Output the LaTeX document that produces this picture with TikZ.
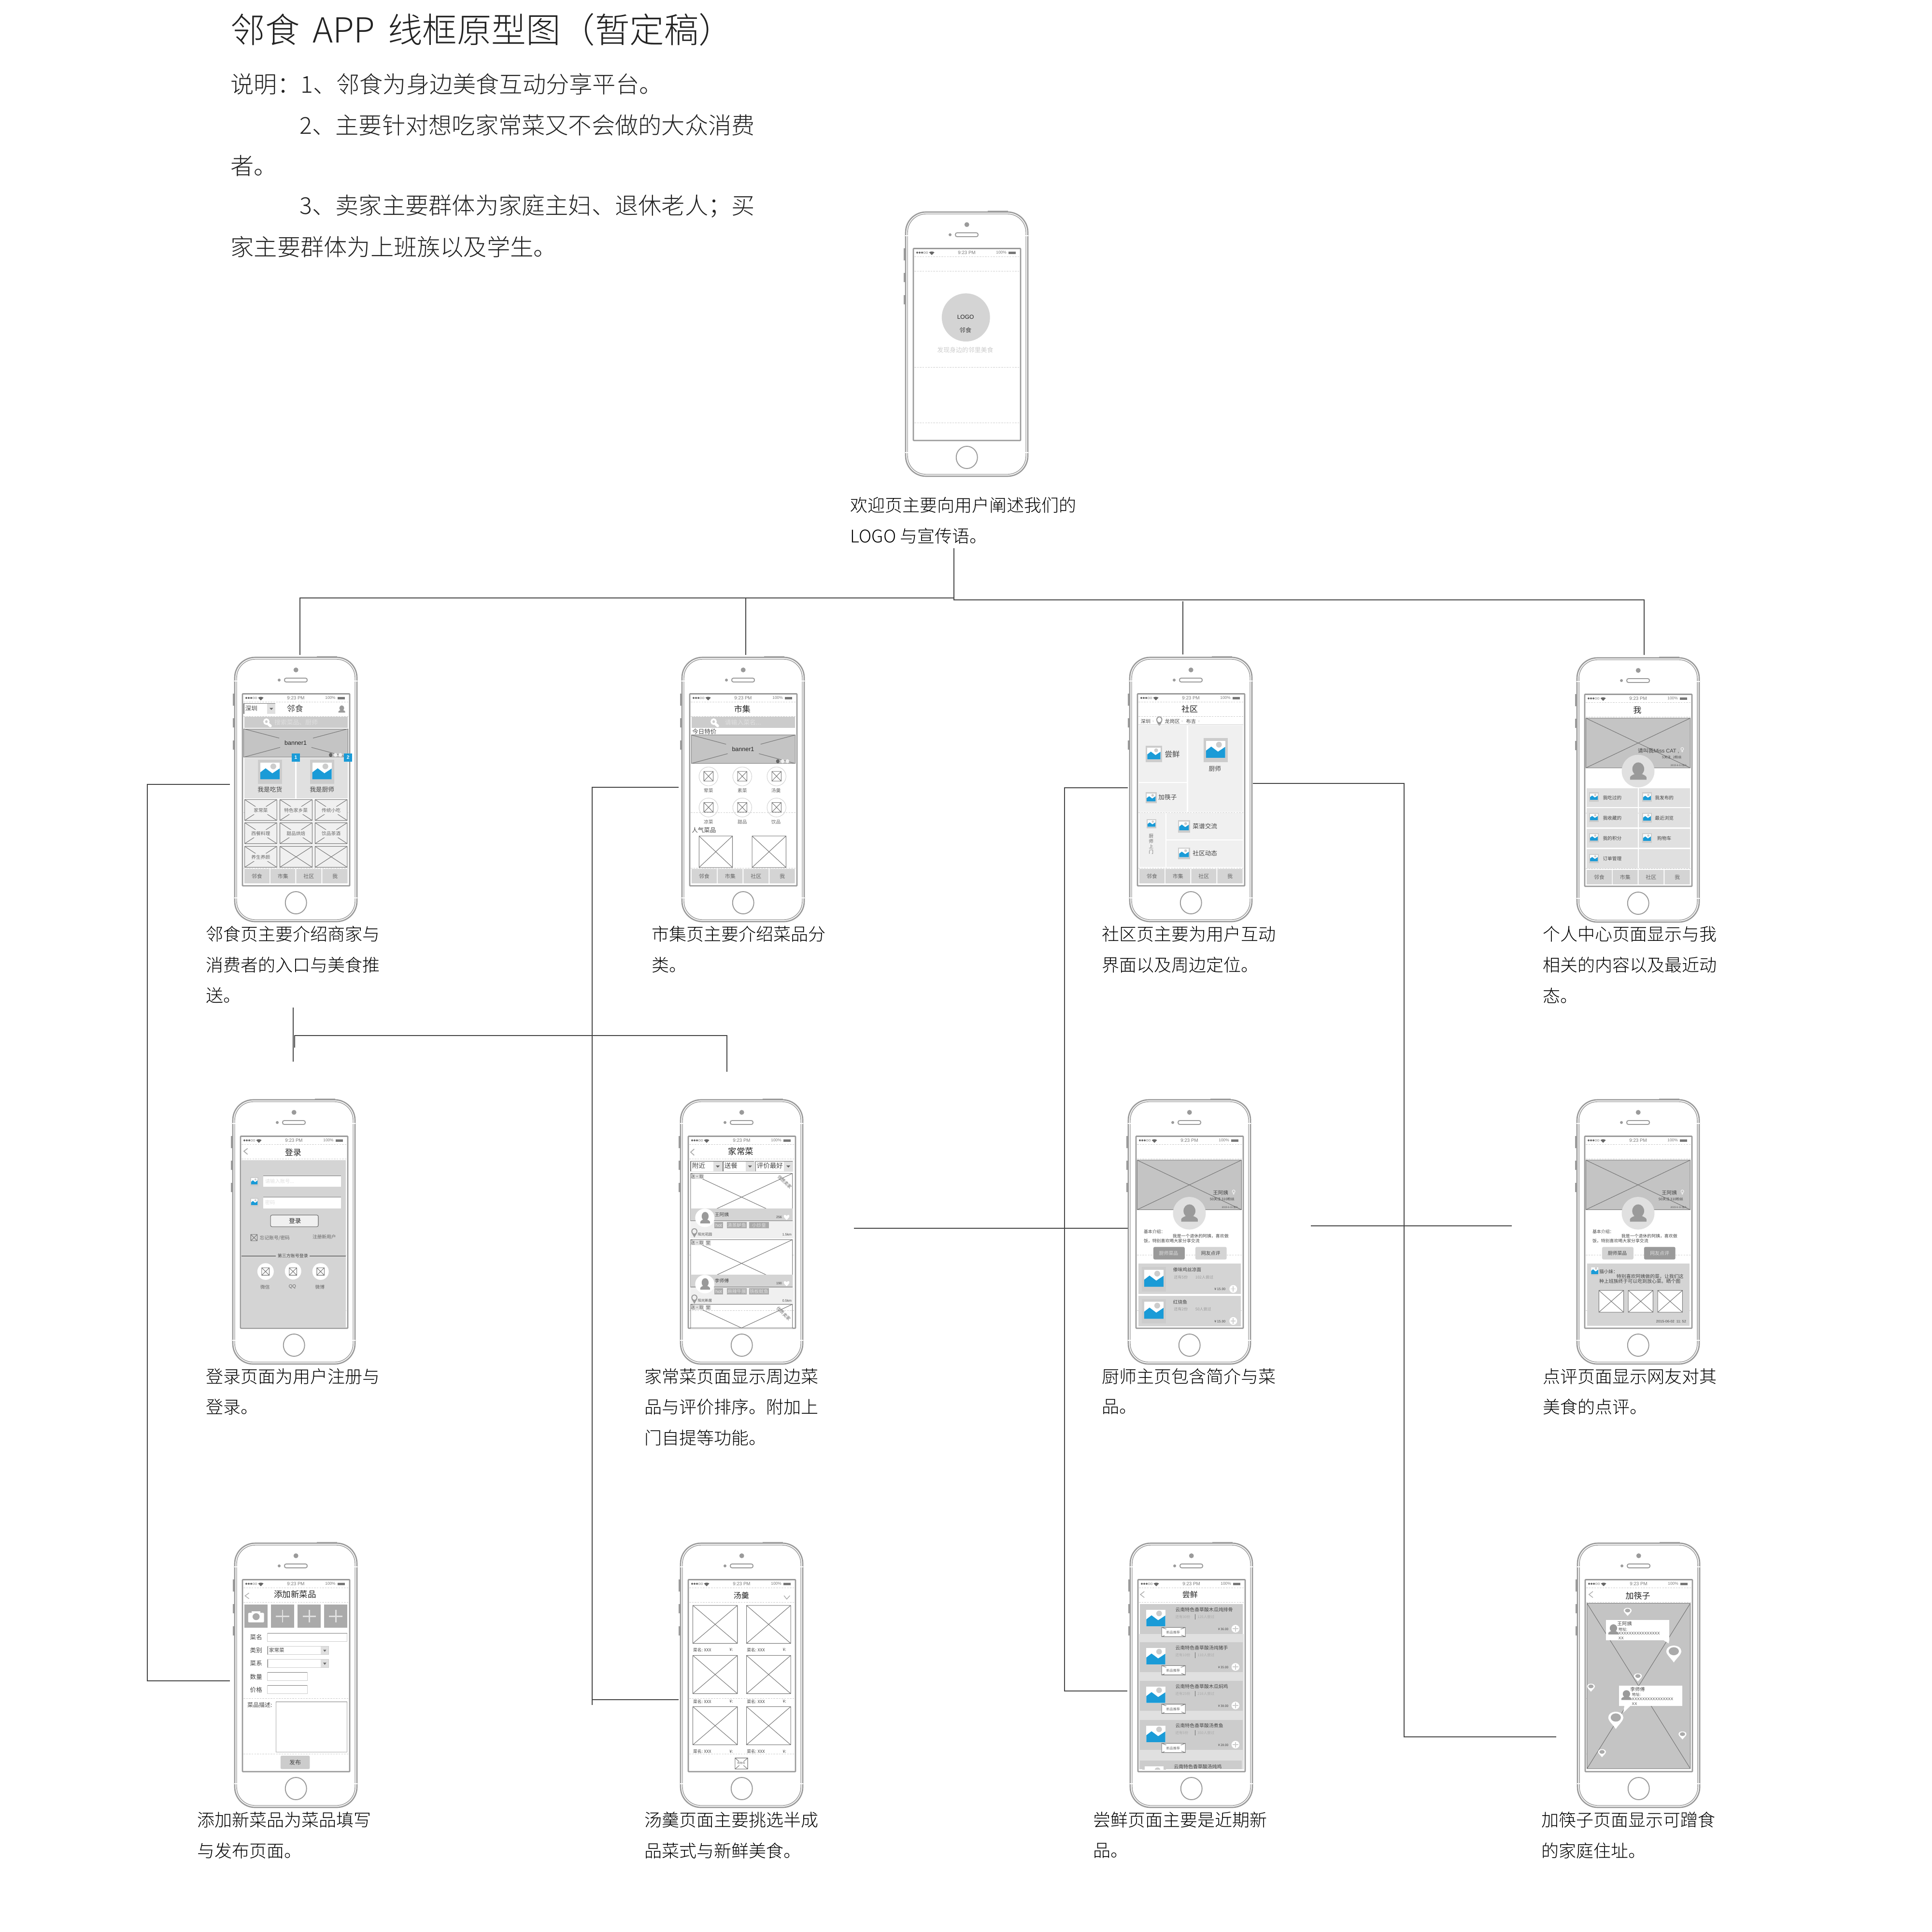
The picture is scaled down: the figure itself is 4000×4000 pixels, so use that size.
\documentclass[tikz,border=0pt]{standalone}
\usepackage{fontspec}
\setmainfont{Noto Sans CJK SC Light}
\newfontfamily\reg{Noto Sans CJK SC}
\newfontfamily\lat{Liberation Sans}
\newfontfamily\symb{DejaVu Sans}
\definecolor{gC4}{HTML}{C4C4C4}\definecolor{gCC}{HTML}{CCCCCC}\definecolor{gD4}{HTML}{D4D4D4}
\definecolor{gE0}{HTML}{E0E0E0}\definecolor{gF0}{HTML}{F0F0F0}\definecolor{g99}{HTML}{9A9A9A}
\definecolor{g77}{HTML}{777777}\definecolor{g66}{HTML}{666666}\definecolor{g44}{HTML}{444444}
\definecolor{g22}{HTML}{222222}\definecolor{gAA}{HTML}{AAAAAA}\definecolor{bl}{HTML}{1A9BD7}
\newdimen\wSz \newcount\wN
\newcommand\wFs[1]{\wSz=0.2845\dimexpr #1pt\relax \fontsize{\the\wSz}{\the\wSz}\selectfont\ifdim\wSz<6pt \reg\fi}
\tikzset{
  wtxt/.style={inner sep=0pt,text=g44},
  captxt/.style={anchor=west,text=black},
  inpbox/.style={draw=gCC,line width=0.3pt},
  phonebox/.style={inner sep=0pt,minimum width=2.53cm,minimum height=5.47cm},
  conn/.style={draw=g44,line width=0.4pt},
  xb/.style={draw=g77,line width=0.3pt},
  dashline/.style={draw=gCC,line width=0.25pt,dash pattern=on 1pt off 0.6pt},
  zA/.style n args={2}{shift={(#1,#2)},x=0.0033333cm,y=-0.0038270cm},
  zB/.style n args={2}{shift={(#1,#2)},x=0.0081633cm,y=-0.0039541cm},
}
\newcommand\wTx[5][]{\global\advance\wN by 1 \node[wtxt,font=\wFs{#4},#1] (t\the\wN) at (#2,#3) {#5};}
\newcommand\wRc[5][fill=gD4]{\path[#1] (#2,#3) rectangle (#4,#5);}
\newcommand\wEl[5][fill=gD4]{\path[#1] (#2,#3) ellipse [x radius=#4,y radius=#5];}
\newcommand\wXb[5][]{\draw[xb,#1] (#2,#3) rectangle (#4,#5) (#2,#3)--(#4,#5) (#2,#5)--(#4,#3);}
\newcommand\wIc[4]{\pgfmathsetmacro\wsa{(#3-#1)/100}\pgfmathsetmacro\wsb{(#4-#2)/100}%
  \begin{scope}[shift={(#1,#2)},xscale=\wsa,yscale=\wsb]
  \fill[gCC] (0,0) rectangle (100,100);
  \fill[white] (10,11) rectangle (90,81);
  \fill[bl] (10,81)--(10,52)--(32,35)--(60,56)--(90,36)--(90,81)--cycle;
  \fill[gCC] (64,27) ellipse [x radius=12,y radius=12];
  \end{scope}}
\newcommand\wPs[5][g99]{\pgfmathsetmacro\wsa{(#4-#2)/100}\pgfmathsetmacro\wsb{(#5-#3)/100}%
  \begin{scope}[shift={(#2,#3)},xscale=\wsa,yscale=\wsb]
  \fill[#1] (50,38) ellipse [x radius=36,y radius=38];
  \fill[#1] (0,100)--(0,85) .. controls (5,75) and (20,70) .. (32,66) -- (68,66) .. controls (80,70) and (95,75) .. (100,85) -- (100,100) -- cycle;
  \end{scope}}
\newcommand\wPn[6][white]{\pgfmathsetmacro\wsa{#4/100}\pgfmathsetmacro\wsb{#5/150}%
  \begin{scope}[shift={(#2,#3)},xscale=\wsa,yscale=\wsb]
  \fill[#1] (0,100) .. controls (-20,60) and (-50,30) .. (-50,0) .. controls (-50,-30) and (-28,-50) .. (0,-50) .. controls (28,-50) and (50,-30) .. (50,0) .. controls (50,30) and (20,60) .. (0,100) -- cycle;
  \fill[#6] (0,0) ellipse [x radius=34,y radius=36];
  \end{scope}}
\newcommand\wPhone[3]{\begin{scope}[shift={(#2,#3)}]
  \node[phonebox] (#1) at (126.5,273.5) {};
  \fill[g99] (-4,75) rectangle (0,100) (-4,126) rectangle (0,145) (-4,172) rectangle (0,191) (170,-2.5) rectangle (212,1);
  \draw[g99,line width=0.75pt,fill=white,rounded corners=0.42cm] (0,0) rectangle (253,547);
  \draw[g99,line width=0.4pt,rounded corners=0.38cm] (4,4) rectangle (249,543);
  \draw[white,line width=0.5pt] (-1,49)--(5,49) (248,49)--(254,49) (-1,498)--(5,498) (248,498)--(254,498);
  \fill[g99] (126.7,26) ellipse [x radius=5,y radius=5];
  \fill[g99] (92,47) circle [radius=3];
  \draw[g99,line width=0.55pt,rounded corners=0.035cm] (103,43) rectangle (150,51);
  \draw[g99,line width=0.55pt] (126.7,508) ellipse [x radius=22,y radius=23];
  \draw[g99,line width=0.75pt,rounded corners=0.01cm] (16,75.5) rectangle (238,473);
  \foreach \q in {24,29,34}{\fill[g66] (\q,84) circle [radius=2];}
  \foreach \q in {39,44}{\draw[g77,line width=0.15pt] (\q,84) circle [radius=2];}
  \fill[g66] (54,89)--(48.5,83.5) .. controls (52,81) and (56,81) .. (59.5,83.5)--cycle;
  \wTx[text=g77]{126.5}{84}{9.7}{\lat 9:23 PM}
  \wTx[text=g77]{198}{84}{8.3}{\lat 100\%}
  \fill[g77] (213,81.5) rectangle (228,86.5);
  \foreach \q in {92,122,321,436}{\draw[dashline] (18,\q)--(236,\q);}
\end{scope}}
\newcommand\wTabBar[2]{\begin{scope}[shift={(#1,#2)}]
  \fill[gD4] (138,1172) rectangle (295,1250) (300,1172) rectangle (455,1250) (461,1172) rectangle (617,1250) (623,1172) rectangle (780,1250);
  \wTx[text=g66]{216}{1212}{11}{邻食}\wTx[text=g66]{378}{1212}{11}{市集}\wTx[text=g66]{539}{1212}{11}{社区}\wTx[text=g66]{702}{1212}{11}{我}
\end{scope}}
\newcommand\wMg[2]{\begin{scope}[shift={(#1,#2)}]
  \draw[white,line width=1pt] (-5,-4) ellipse [x radius=14,y radius=13];
  \draw[white,line width=1.6pt,line cap=round] (7,9)--(20,19);
\end{scope}}
\newcommand\wDrop[6][12]{\wRc[fill=white]{#2}{#3}{#4}{#5}\wRc[fill=gE0]{#6}{#3}{#4}{#5}
  \draw[g77,line width=0.4pt] (#2,#5)--(#2,#3)--(#4,#3);
  \pgfmathsetmacro\wsa{(#6+#4)/2}\pgfmathsetmacro\wsb{(#3+#5)/2}
  \begin{scope}[shift={(\wsa,\wsb)}]\fill[g66] (-#1,-4)--(#1,-4)--(0,7)--cycle;\end{scope}}
\newcommand\wChef[4]{\begin{scope}[shift={(#1,0)}]
  \wRc[fill=gC4]{73}{318}{722}{586}
  \wXb{73}{318}{722}{586}
  \wEl[fill=gE0]{398}{605}{102}{88}
  \wPs{347}{557}{450}{651}
  \wTx{592}{494}{10.5}{王阿姨}
  \wTx[text=white]{674}{493}{12}{\symb ♀}
  \wTx{602}{528}{7.3}{50关注 310粉丝}
  \wTx[anchor=east]{704}{574}{5}{2015-6-11 加入}
  \wTx[anchor=west]{112}{705}{8.9}{基本介绍：}
  \wTx[anchor=west]{292}{729}{8.9}{我是一个退休的阿姨，喜欢做}
  \wTx[anchor=west]{112}{755}{8.9}{饭，特别喜欢喝大家分享交流}
  \path[fill=#2,rounded corners=0.03cm] (174,787) rectangle (369,855);
  \wTx[text=#3]{269}{821}{9.9}{厨师菜品}
  \path[fill=#4,rounded corners=0.03cm] (435,787) rectangle (630,855);
\end{scope}}
\newcommand\wPlus[2]{\begin{scope}[shift={(#1,#2)}]
  \wEl[fill=white]{0}{0}{24}{21}
  \draw[gCC,line width=0.5pt] (-15,0)--(15,0) (0,-15)--(0,15);
\end{scope}}
\newcommand\wCard[5]{\begin{scope}[shift={(0,#1)}]
  \wRc{81}{878}{717}{1042}
  \wIc{102}{896}{252}{1027}
  \wTx[anchor=west]{295}{911}{9.7}{#2}
  \wTx[anchor=west,text=g99]{300}{951}{8}{#3}
  \wTx[anchor=west,text=g99]{#5}{951}{8}{#4}
  \wTx[anchor=east]{625}{1016}{7}{¥ 15.00}
  \wPlus{671}{1014}
\end{scope}}
\newcommand\wDish[7]{\begin{scope}[shift={(0,#1)}]
  \wXb[fill=white]{90}{390}{723}{646}
  \wRc{90}{580}{723}{646}
  \draw[g77,line width=0.3pt] (90,646)--(723,646);
  \wRc[fill=gF0]{88}{648}{730}{742}
  \wRc[fill=gE0]{95}{393}{170}{420}
  \wTx[text=g66]{130}{407}{9}{送·取}
  \wEl[fill=white]{178}{630}{60}{50}
  \wPs{150}{598}{210}{660}
  \wTx[anchor=west]{238}{613}{9.7}{#2}
  \wTx{640}{627}{7}{\lat #3}
  \begin{scope}[shift={(687,626)}]\fill[white] (0,15) .. controls (-24,-1) and (-20,-14) .. (-9,-12) .. controls (-3,-11) and (0,-6) .. (0,-6) .. controls (0,-6) and (5,-11) .. (9,-12) .. controls (21,-14) and (22,-1) .. (0,15);\end{scope}
  \wRc[fill=gAA]{238}{653}{290}{687}\wTx[text=gF0]{264}{670}{9.7}{\lat hot}
  \wRc[fill=gAA]{315}{653}{440}{687}\wTx[text=gE0]{377}{670}{9.7}{#4}
  \wRc[fill=gAA]{453}{653}{578}{687}\wTx[text=gE0]{515}{670}{9.7}{#5}
  \wPn[g99]{113}{703}{38}{50}{gF0}
  \wTx[anchor=west]{133}{719}{7.3}{#6}
  \wTx[anchor=east]{720}{719}{7}{\lat #7}
\end{scope}}
\newcommand\wTaste[5]{\begin{scope}[shift={(0,#1)}]
  \wRc[fill=gCC]{37}{305}{298}{463}
  \wIc{47}{322}{107}{445}
  \wXb[fill=white]{92}{428}{152}{477}
  \wTx[fill=white,inner sep=1pt,text=g66]{121}{455}{7}{新品推荐}
  \wTx[anchor=west]{126}{335}{9.9}{#2}
  \wTx[anchor=west,text=gAA]{126}{373}{7.5}{#3}
  \draw[g66,line width=0.3pt] (177,358)--(177,388);
  \wTx[anchor=west,text=gAA]{182}{373}{7.5}{#4}
  \wTx[anchor=east]{262}{437}{6.5}{¥ #5}
  \begin{scope}[shift={(279,435)}]\wEl[fill=white]{0}{0}{10}{20}
  \draw[gCC,line width=0.5pt] (-7,0)--(7,0) (0,-14)--(0,14);\end{scope}
\end{scope}}
\begin{document}
\begin{tikzpicture}[x=0.01cm,y=-0.01cm]
\useasboundingbox (0,0) rectangle (4000,4000);
\fill[white] (0,0) rectangle (4000,4000);
% heading
\wTx[anchor=west,text=g22]{477}{61}{71.5}{邻食\hspace{3pt} APP\hspace{3pt} 线框原型图（暂定稿）}
\wTx[anchor=west,text=g22]{477}{174}{48.2}{说明：1、邻食为身边美食互动分享平台。}
\wTx[anchor=west,text=g22]{620}{259}{48.2}{2、主要针对想吃家常菜又不会做的大众消费}
\wTx[anchor=west,text=g22]{477}{343}{48.2}{者。}
\wTx[anchor=west,text=g22]{620}{427}{48.2}{3、卖家主要群体为家庭主妇、退休老人；买}
\wTx[anchor=west,text=g22]{477}{511}{48.2}{家主要群体为上班族以及学生。}
% phones
\wPhone{welcome}{1875}{439}
\wPhone{home}{486}{1361}\wPhone{market}{1412}{1361}\wPhone{community}{2339}{1361}\wPhone{me}{3265}{1362}
\wPhone{login}{482}{2277}\wPhone{dishes}{1409}{2277}\wPhone{chef}{2336}{2277}\wPhone{review}{3265}{2277}
\wPhone{addnew}{486}{3195}\wPhone{soup}{1409}{3195}\wPhone{taste}{2340}{3195}\wPhone{mapview}{3266}{3195}
% welcome
\begin{scope}[zA={1840}{420}]
\wEl{480}{619}{150}{130}
\wTx[text=g22]{478}{617}{12}{\lat LOGO}
\wTx[text=g44]{477}{688}{12.5}{邻食}
\wTx[text=gCC]{476}{795}{12.9}{发现身边的邻里美食}
\end{scope}
% home
\begin{scope}[zA={460}{1350}]
\wDrop{135}{278}{332}{333}{280}
\wTx[anchor=west]{142}{305}{12.5}{深圳}
\wTx{453}{305}{17}{邻食}
\wPs{723}{288}{765}{327}
\wRc[fill=gCC]{137}{350}{780}{409}
\wMg{280}{380}
\wTx[text=gE0,anchor=west]{323}{380}{12.8}{搜索菜品、厨师}
\wRc[fill=gC4,draw=g77,line width=0.3pt]{135}{415}{782}{568}
\draw[xb] (135,415)--(355,465) (782,415)--(565,465) (135,568)--(360,515) (782,568)--(555,515);
\wTx[text=g22]{457}{490}{12.5}{\lat banner1}
\wEl[fill=g66]{675}{556}{11}{11}\wEl[fill=gF0]{705}{556}{11}{11}\wEl[fill=gF0]{735}{556}{11}{11}
\wRc[fill=gE0]{137}{572}{455}{790}\wRc[fill=gE0]{462}{572}{782}{790}
\wIc{222}{583}{372}{712}\wIc{546}{583}{696}{712}
\wTx{297}{742}{12.7}{我是吃货}\wTx{621}{742}{12.7}{我是厨师}
\wRc[fill=bl]{433}{548}{483}{592}\wTx[text=white]{458}{570}{10}{\lat\bfseries 1}
\wRc[fill=bl]{758}{548}{808}{592}\wTx[text=white]{783}{570}{10}{\lat\bfseries 2}
\wRc[fill=gF0]{137}{795}{782}{1167}
\foreach \xa/\xc in {140/340,359/560,578/778}{\foreach \ya/\yc in {797/910,922/1035,1050/1163}{\wXb{\xa}{\ya}{\xc}{\yc}}}
\wTx[fill=gF0,inner sep=1pt,text=g66]{240}{855}{9.7}{家常菜}
\wTx[fill=gF0,inner sep=1pt,text=g66]{459}{855}{9.7}{特色家乡菜}
\wTx[fill=gF0,inner sep=1pt,text=g66]{678}{855}{9.7}{传统小吃}
\wTx[fill=gF0,inner sep=1pt,text=g66]{240}{981}{9.7}{西餐料理}
\wTx[fill=gF0,inner sep=1pt,text=g66]{459}{981}{9.7}{甜品烘焙}
\wTx[fill=gF0,inner sep=1pt,text=g66]{678}{981}{9.7}{饮品茶酒}
\wTx[fill=gF0,inner sep=1pt,text=g66]{240}{1108}{9.7}{养生养颜}
\wTabBar{0}{0}
\end{scope}
% market
\begin{scope}[zA={1400}{1350}]
\wTx[text=g22]{411}{308}{17}{市集}
\wRc[fill=gCC]{96}{350}{738}{409}
\wMg{238}{380}
\wTx[text=gE0,anchor=west]{301}{380}{12.8}{请输入菜名...}
\wTx[anchor=west]{98}{430}{12.5}{今日特价}
\wRc[fill=gC4,draw=g77,line width=0.3pt]{94}{448}{740}{602}
\draw[xb] (94,448)--(310,498) (740,448)--(525,498) (94,602)--(320,549) (740,602)--(515,549);
\wTx[text=g22]{416}{524}{12.5}{\lat banner1}
\wEl[fill=g66]{632}{590}{11}{11}\wEl[fill=gF0]{662}{590}{11}{11}\wEl[fill=gF0]{692}{590}{11}{11}
\foreach \xq in {201,411,624}{
 \wEl[draw=gCC,line width=0.25pt]{\xq}{672}{59}{51}
 \wEl[draw=gCC,line width=0.25pt]{\xq}{840}{59}{51}
 \pgfmathsetmacro\xl{\xq-29}\pgfmathsetmacro\xr{\xq+29}
 \wXb{\xl}{645}{\xr}{697}\wXb{\xl}{813}{\xr}{865}}
\wTx[text=g66]{201}{748}{9.7}{荤菜}\wTx[text=g66]{411}{748}{9.7}{素菜}\wTx[text=g66]{621}{748}{9.7}{汤羹}
\wTx[text=g66]{201}{918}{9.7}{凉菜}\wTx[text=g66]{411}{918}{9.7}{甜品}\wTx[text=g66]{621}{918}{9.7}{饮品}
\wTx[anchor=west]{95}{963}{12.5}{人气菜品}
\wXb{142}{994}{350}{1164}\wXb{472}{994}{683}{1164}
\wTabBar{-42}{0}
\end{scope}
% community
\begin{scope}[zA={2330}{1350}]
\wTx[text=g22]{400}{308}{17}{社区}
\wTx{126}{374}{10.3}{深圳}\wTx[text=gCC]{173}{376}{7}{\lat v}
\wPn[g99]{211}{366}{38}{55}{white}
\wTx{292}{374}{10.5}{龙岗区}\wTx[text=gCC]{353}{376}{7}{\lat v}
\wTx{408}{374}{10.3}{布吉}\wTx[text=gCC]{458}{376}{7}{\lat v}
\draw[gCC,line width=0.3pt] (82,393)--(732,393);
\wRc[fill=gF0]{85}{397}{383}{703}\wRc[fill=gF0]{390}{397}{730}{863}\wRc[fill=gF0]{85}{708}{383}{863}
\wRc[fill=gF0]{87}{868}{248}{1160}\wRc[fill=gF0]{255}{868}{730}{1012}\wRc[fill=gF0]{255}{1017}{730}{1160}
\wIc{126}{507}{228}{596}\wTx{292}{551}{15.5}{尝鲜}
\wIc{486}{465}{636}{596}\wTx{557}{630}{12.7}{厨师}
\wIc{126}{758}{194}{818}\wTx{263}{785}{12.7}{加筷子}
\wIc{132}{903}{192}{953}
\wTx[text=g66]{160}{994}{9.5}{厨}\wTx[text=g66]{160}{1022}{9.5}{师}\wTx[text=g66]{160}{1051}{9.5}{上}\wTx[text=g66]{160}{1079}{9.5}{门}
\wIc{327}{909}{402}{975}\wTx{495}{941}{12.7}{菜谱交流}
\wIc{327}{1056}{402}{1120}\wTx{495}{1088}{12.7}{社区动态}
\wTabBar{-51}{0}
\end{scope}
% me
\begin{scope}[zA={3270}{1350}]
\wTx[text=g22]{360}{314}{17}{我}
\wRc[fill=gC4]{40}{357}{690}{626}\wXb{40}{357}{690}{626}
\wTx{492}{533}{11}{请叫我{\lat Miss CAT ,}}
\wTx[text=white]{640}{530}{12}{\symb ♀}
\wTx{575}{568}{7}{5关注\ \ \ 2粉丝}
\wTx[anchor=east]{672}{612}{5}{2015-6-11 加入}
\wEl[fill=gE0]{365}{643}{102}{88}
\wPs{315}{596}{417}{690}
\foreach \ya/\yc/\yi in {735/838/758,844/948/868,954/1058/978,1064/1168/1090}{
 \wRc[fill=gE0]{45}{\ya}{362}{\yc}\wRc[fill=gE0]{369}{\ya}{688}{\yc}
 \pgfmathsetmacro\yj{\yi+50}
 \wIc{60}{\yi}{120}{\yj}}
\foreach \yi in {758,868,978}{\pgfmathsetmacro\yj{\yi+52}\wIc{390}{\yi}{450}{\yj}}
\wTx{204}{788}{9.7}{我吃过的}\wTx{528}{788}{9.7}{我发布的}
\wTx{204}{898}{9.7}{我收藏的}\wTx{528}{898}{9.7}{最近浏览}
\wTx{204}{1008}{9.7}{我的积分}\wTx{528}{1008}{9.7}{购物车}
\wTx{204}{1117}{9.7}{订单管理}
\wTabBar{-93}{5}
\end{scope}
% login
\begin{scope}[zA={460}{2280}]
\draw[gAA,line width=0.5pt] (158,255)--(135,270)--(158,287);
\wTx[text=g22]{441}{277}{17}{登录}
\wRc{121}{318}{770}{1222}
\wIc{175}{410}{225}{458}
\wRc[fill=white]{256}{402}{739}{463}\draw[g77,line width=0.3pt] (256,402)--(739,402);
\wTx[anchor=west,text=gE0]{265}{433}{10.3}{请输入账号...}
\wIc{175}{522}{225}{570}
\wRc[fill=white]{256}{517}{739}{578}\draw[g77,line width=0.3pt] (256,517)--(739,517);
\wTx[anchor=west,text=gE0]{265}{548}{10.3}{密码}
\path[fill=gF0,draw=g66,line width=0.3pt,rounded corners=0.03cm] (301,615) rectangle (598,678);
\wTx[text=g22]{453}{647}{12.5}{登录}
\wXb{178}{720}{218}{754}
\wTx[anchor=west,text=g66]{232}{738}{9.7}{忘记账号/密码}
\wTx[text=g66]{635}{733}{9.7}{注册新用户}
\draw[g22,line width=0.35pt] (120,837)--(770,837);
\wTx[fill=gD4,inner sep=1pt]{440}{836}{9}{第三方账号登录}
\wEl[fill=white]{270}{920}{51}{45}\wEl[fill=white]{441}{918}{51}{45}\wEl[fill=white]{612}{920}{51}{45}
\wXb{246}{900}{293}{940}\wXb{417}{900}{464}{940}\wXb{589}{900}{635}{940}
\wTx[text=g66]{267}{1005}{9.7}{微信}\wTx[text=g66]{437}{1003}{9.7}{\lat QQ}\wTx[text=g66]{608}{1005}{9.7}{微博}
\end{scope}
% dishes
\begin{scope}[zA={1400}{2280}]
\draw[gAA,line width=0.5pt] (112,258)--(90,275)--(112,292);
\wTx[text=g22]{402}{272}{17.5}{家常菜}
\wRc[fill=gE0]{87}{320}{728}{380}
\wDrop{90}{325}{285}{378}{232}\wDrop{292}{325}{485}{378}{433}\wDrop{494}{325}{725}{378}{670}
\wTx[anchor=west]{97}{349}{13.5}{附近}\wTx[anchor=west]{298}{349}{13.5}{送餐}\wTx[anchor=west]{499}{349}{13.5}{评价最好}
\wDish{0}{王阿姨}{256}{清蒸鲈鱼}{小炒皇}{阳光花园}{1.5km}
\wTx[rotate=-44,text=g66]{675}{436}{9}{优质卖家}
\wDish{358}{李师傅}{190}{麻辣牛展}{铁板鱿鱼}{阳光新居}{0.5km}
\wRc[fill=gE0]{182}{752}{217}{780}\wTx[text=g66]{199}{765}{9}{堂}
\draw[xb,draw=g77] (90,1228)--(90,1097)--(723,1097)--(723,1228) (90,1097)--(406,1225)--(723,1097);
\wRc[fill=gE0]{95}{1102}{170}{1128}\wTx[text=g66]{130}{1115}{9}{送·取}
\wRc[fill=gE0]{182}{1102}{217}{1128}\wTx[text=g66]{199}{1115}{9}{堂}
\wTx[rotate=-44,text=g66]{668}{1147}{9}{优质卖家}
\draw[gE0,line width=0.5pt] (90,1228)--(723,1228);
\end{scope}
% chef
\begin{scope}[zA={2330}{2280}]
\wChef{0}{g99}{gE0}{gD4}
\wTx{531}{821}{9.9}{网友点评}
\wCard{0}{傣味鸡丝凉面}{还有5份}{102人尝过}{433}
\wCard{173}{红烧鱼}{还有2份}{50人尝过}{433}
\end{scope}
% review
\begin{scope}[zA={3270}{2280}]
\wChef{-33}{gD4}{g44}{g99}
\wTx[text=gE0]{499}{821}{9.9}{网友点评}
\wRc{48}{878}{684}{1213}
\begin{scope}\clip (73,900) rectangle (117,940);\wIc{66}{888}{124}{945}\end{scope}
\wTx[anchor=west]{121}{920}{9.7}{猫小妹：}
\wTx[anchor=west]{229}{948}{9.9}{特别喜欢阿姨做的菜，让我们这}
\wTx[anchor=west]{121}{973}{9.9}{种上班族终于可以吃到放心菜。晒个图}
\wXb[fill=white]{121}{1022}{275}{1140}\wXb[fill=white]{304}{1022}{458}{1140}\wXb[fill=white]{487}{1022}{641}{1140}
\wTx[anchor=east]{666}{1189}{7.4}{\lat 2015-06-02\ \ 11:\ 52}
\end{scope}
% add new
\begin{scope}[zB={460}{3200}]
\draw[gAA,line width=0.4pt] (68,248)--(58,263)--(68,278);
\wTx[text=g22]{185}{256}{17.5}{添加新菜品}
\foreach \xa/\xc in {56/115,124/183,191/250,258/317}{\wRc[fill=gAA]{\xa}{309}{\xc}{430}}
\path[fill=white,rounded corners=0.02cm] (66,352) rectangle (106,402);
\fill[white] (75,345) rectangle (97,355);
\wEl[fill=gAA]{86}{372}{9}{18}
\foreach \xq in {153,221,288}{\draw[gE0,line width=0.8pt] (\xq,337)--(\xq,403) (\xq-17,370)--(\xq+17,370);}
\wTx{86}{480}{12.5}{菜名}\wTx{86}{548}{12.5}{类别}\wTx{86}{617}{12.5}{菜系}\wTx{86}{687}{12.5}{数量}\wTx{86}{755}{12.5}{价格}
\wRc[inpbox]{115}{459}{317}{502}\draw[g77,line width=0.3pt] (115,459)--(317,459);
\wDrop[4]{115}{527}{270}{571}{250}\wRc[inpbox]{115}{527}{270}{571}\wTx[anchor=west]{118}{548}{10.5}{家常菜}
\wDrop[4]{115}{595}{270}{639}{250}\wRc[inpbox]{115}{595}{270}{639}
\wRc[inpbox]{115}{664}{216}{707}\draw[g77,line width=0.3pt] (115,664)--(216,664);
\wRc[inpbox]{115}{732}{216}{775}\draw[g77,line width=0.3pt] (115,732)--(216,732);
\wTx[anchor=west]{63}{835}{12}{菜品描述:}
\wRc[draw=gAA,line width=0.3pt]{136}{819}{317}{1081}\draw[g77,line width=0.3pt] (136,819)--(317,819);
\path[fill=gCC,rounded corners=0.025cm] (148,1100) rectangle (222,1170);
\wTx{185}{1135}{12}{发布}
% soup
\wTx[text=g22]{1316}{262}{16}{汤羹}
\draw[gAA,line width=0.4pt] (1424,262)--(1431,280)--(1439,262);
\foreach \ya/\yc/\yt in {313/512/546,575/775/816,843/1043/1078}{
 \wXb{1193}{\ya}{1306}{\yc}\wXb{1329}{\ya}{1441}{\yc}
 \wTx[anchor=west]{1193}{\yt}{8.7}{菜名: XXX}\wTx[anchor=west]{1329}{\yt}{8.7}{菜名: XXX}
 \wTx[anchor=west]{1285}{\yt}{8.7}{¥:}\wTx[anchor=west]{1420}{\yt}{8.7}{¥:}}
\wXb{1300}{1112}{1332}{1170}
\wTx[fill=white,inner sep=0.5pt,text=g66]{1316}{1140}{5.5}{购物车}
\end{scope}
% taste and map
\begin{scope}[zB={2330}{3200}]
\draw[gAA,line width=0.4pt] (48,240)--(38,256)--(48,272);
\wTx[text=g22]{164}{256}{16}{尝鲜}
\begin{scope}
\clip (33,300) rectangle (300,1172);
\wRc[fill=gE0]{33}{463}{300}{1172}
\wTaste{0}{云南特色香草酸木瓜炖排骨}{还有30份}{125人尝过}{36.00}
\wTaste{200}{云南特色香草酸汤炖猪手}{还有10份}{110人尝过}{35.00}
\wTaste{402}{云南特色香草酸木瓜焖鸡}{还有25份}{216人尝过}{38.00}
\wTaste{607}{云南特色香草酸汤煮鱼}{还有5份}{350人尝过}{28.00}
\wRc[fill=gCC]{37}{1125}{295}{1172}
\wIc{43}{1143}{103}{1266}
\wTx[anchor=west]{122}{1157}{9.9}{云南特色香草酸汤炖鸡}
\end{scope}
% map
\draw[gAA,line width=0.4pt] (1185,240)--(1175,256)--(1185,272);
\wTx[text=g22]{1299}{262}{17}{加筷子}
\wXb[fill=gC4]{1170}{302}{1432}{1168}
\wPn{1273}{340}{20}{42}{gAA}\wPn{1299}{683}{20}{42}{gAA}\wPn{1180}{737}{20}{42}{gAA}\wPn{1412}{987}{20}{42}{gAA}\wPn{1208}{1080}{20}{42}{gAA}
\wPn{1390}{553}{38}{88}{gAA}\wPn{1243}{900}{38}{90}{gAA}
\fill[white] (1360,490)--(1379,490)--(1377,512)--cycle;
\wRc[fill=white]{1218}{389}{1379}{496}
\wPs{1224}{412}{1250}{465}
\wTx[anchor=west]{1246}{410}{10}{王阿姨}
\wTx[anchor=west]{1249}{438}{8}{地址:}
\wTx[anchor=west]{1249}{460}{8}{\lat XXXXXXXXXXXXXXXX}
\wTx[anchor=west]{1249}{485}{8}{\lat XX}
\fill[white] (1265,835)--(1282,835)--(1262,875)--cycle;
\wRc[fill=white]{1251}{733}{1412}{839}
\wPs{1257}{757}{1283}{808}
\wTx[anchor=west]{1279}{753}{10}{李师傅}
\wTx[anchor=west]{1283}{781}{8}{地址:}
\wTx[anchor=west]{1283}{803}{8}{\lat XXXXXXXXXXXXXXXX}
\wTx[anchor=west]{1283}{828}{8}{\lat XX}
\end{scope}
% captions
\wTx[captxt]{1760}{1046}{36}{欢迎页主要向用户阐述我们的}
\wTx[captxt]{1760}{1110}{36}{LOGO 与宣传语。}
\wTx[captxt]{426}{1934}{36}{邻食页主要介绍商家与}\wTx[captxt]{426}{1998}{36}{消费者的入口与美食推}\wTx[captxt]{426}{2061}{36}{送。}
\wTx[captxt]{1349}{1934}{36}{市集页主要介绍菜品分}\wTx[captxt]{1349}{1998}{36}{类。}
\wTx[captxt]{2281}{1934}{36}{社区页主要为用户互动}\wTx[captxt]{2281}{1998}{36}{界面以及周边定位。}
\wTx[captxt]{3194}{1934}{36}{个人中心页面显示与我}\wTx[captxt]{3194}{1998}{36}{相关的内容以及最近动}\wTx[captxt]{3194}{2061}{36}{态。}
\wTx[captxt]{426}{2850}{36}{登录页面为用户注册与}\wTx[captxt]{426}{2913}{36}{登录。}
\wTx[captxt]{1334}{2850}{36}{家常菜页面显示周边菜}\wTx[captxt]{1334}{2913}{36}{品与评价排序。附加上}\wTx[captxt]{1334}{2977}{36}{门自提等功能。}
\wTx[captxt]{2281}{2850}{36}{厨师主页包含简介与菜}\wTx[captxt]{2281}{2913}{36}{品。}
\wTx[captxt]{3194}{2850}{36}{点评页面显示网友对其}\wTx[captxt]{3194}{2913}{36}{美食的点评。}
\wTx[captxt]{408}{3768}{36}{添加新菜品为菜品填写}\wTx[captxt]{408}{3832}{36}{与发布页面。}
\wTx[captxt]{1334}{3768}{36}{汤羹页面主要挑选半成}\wTx[captxt]{1334}{3832}{36}{品菜式与新鲜美食。}
\wTx[captxt]{2263}{3768}{36}{尝鲜页面主要是近期新}\wTx[captxt]{2263}{3832}{36}{品。}
\wTx[captxt]{3191}{3768}{36}{加筷子页面显示可蹭食}\wTx[captxt]{3191}{3832}{36}{的家庭住址。}
% connectors
\coordinate (busTop) at (1975,1135); \coordinate (busMid) at (1975,1240);
\coordinate (busL) at (621,1238); \coordinate (busM) at (1975,1238); \coordinate (busR) at (3404,1242); \coordinate (busN) at (1975,1242);
\coordinate (dropA) at (621,1356); \coordinate (busB) at (1544,1238); \coordinate (dropB) at (1544,1356);
\coordinate (busC) at (2449,1245); \coordinate (dropC) at (2449,1355); \coordinate (dropD) at (3404,1356);
\draw[conn] (busTop)--(busN)--(busR)--(dropD);
\draw[conn] (busM)--(busL)--(dropA);
\draw[conn] (busB)--(dropB);
\draw[conn] (busC)--(dropC);
\coordinate (lA) at (476,1624); \coordinate (lB) at (305,1624); \coordinate (lC) at (305,3480); \coordinate (lD) at (476,3480);
\draw[conn] (lA)--(lB)--(lC)--(lD);
\coordinate (mA) at (1405,1630); \coordinate (mB) at (1226,1630); \coordinate (mC) at (1226,3530); \coordinate (mD) at (1226,3519); \coordinate (mE) at (1405,3519);
\draw[conn] (mA)--(mB)--(mC); \draw[conn] (mD)--(mE);
\coordinate (cA) at (2335,1631); \coordinate (cB) at (2204,1631); \coordinate (cC) at (2204,3501); \coordinate (cD) at (2334,3501);
\draw[conn] (cA)--(cB)--(cC)--(cD);
\coordinate (dA) at (1768,2543); \coordinate (dB) at (2335,2543);
\draw[conn] (dA)--(dB);
\coordinate (rA) at (2594,1622); \coordinate (rB) at (2907,1622); \coordinate (rC) at (2907,3596); \coordinate (rD) at (3222,3596);
\draw[conn] (rA)--(rB)--(rC)--(rD);
\coordinate (eA) at (2714,2538); \coordinate (eB) at (3130,2538);
\draw[conn] (eA)--(eB);
\coordinate (hA) at (607,2086); \coordinate (hB) at (607,2198); \coordinate (hC) at (610,2169); \coordinate (hD) at (610,2144); \coordinate (hE) at (1505,2144); \coordinate (hF) at (1505,2219);
\draw[conn] (hA)--(hB);
\draw[conn] (hC)--(hD)--(hE)--(hF);
\end{tikzpicture}
\end{document}
